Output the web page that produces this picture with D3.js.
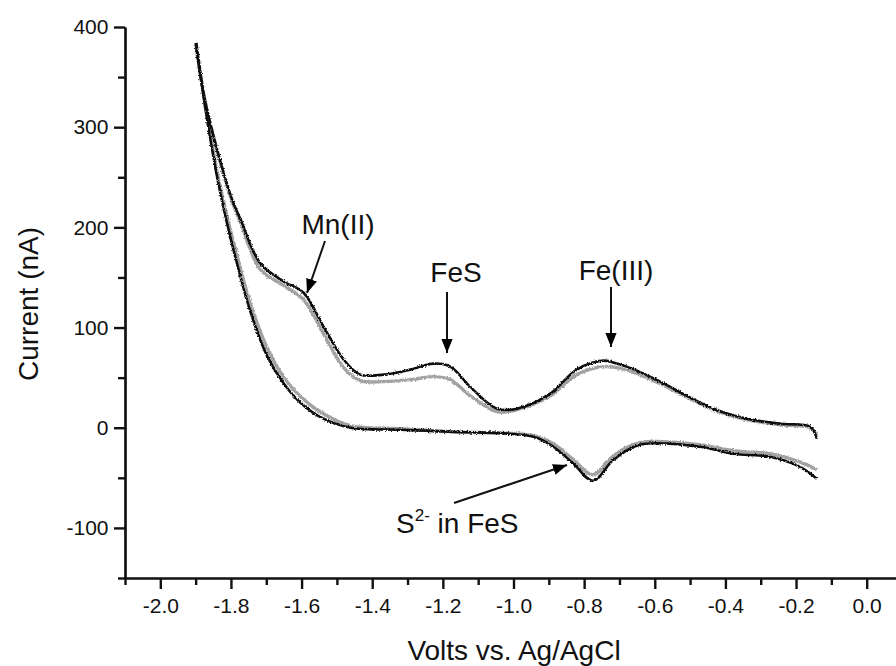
<!DOCTYPE html>
<html>
<head>
<meta charset="utf-8">
<script src="https://cdn.jsdelivr.net/npm/d3@7"></script>
<style>
  body { margin: 0; background: #fff; }
  svg { display: block; font-family: "Liberation Sans", Arial, sans-serif; }
</style>
</head>
<body>
<script>
// upper (anodic) branch, potential in V
const upperVolts = [-1.899, -1.872, -1.800, -1.773, -1.717, -1.651, -1.595, -1.538, -1.481, -1.434, -1.368, -1.292, -1.227, -1.179, -1.123, -1.047, -0.990, -0.896, -0.821, -0.745, -0.707, -0.651, -0.585, -0.434, -0.339, -0.245, -0.160, -0.141];
const upperScan1 = [384, 324, 231, 208, 164, 146, 135, 101, 68, 53, 53, 58, 64, 61, 41, 19, 19, 34, 58, 67, 64, 57, 46, 19, 9, 4, 1, -11];
const upperScan2 = [384, 324, 229, 205, 158, 142, 128, 94, 60, 47, 46, 48, 51, 48, 32, 16, 18, 32, 53, 61, 60, 54, 44, 18, 8, 3, 0, -8];

// lower (return) branch
const lowerVolts = [-1.899, -1.872, -1.840, -1.811, -1.780, -1.745, -1.698, -1.650, -1.600, -1.538, -1.462, -1.321, -1.179, -0.943, -0.887, -0.830, -0.775, -0.717, -0.642, -0.472, -0.378, -0.274, -0.189, -0.141];
const lowerScan1 = [384, 318, 252, 204, 160, 116, 72, 44, 24, 9, 0, -2, -4, -9, -19, -36, -53, -32, -17, -19, -26, -29, -39, -51];
const lowerScan2 = [384, 320, 257, 211, 168, 124, 80, 50, 30, 14, 2, -1, -4, -8, -16, -32, -47, -28, -15, -17, -23, -26, -34, -42];

const xTicks = [-2.0, -1.8, -1.6, -1.4, -1.2, -1.0, -0.8, -0.6, -0.4, -0.2, 0.0];
const xMinor = [-2.1, -1.9, -1.7, -1.5, -1.3, -1.1, -0.9, -0.7, -0.5, -0.3, -0.1, 0.1];
const yTicks = [-100, 0, 100, 200, 300, 400];
const yMinor = [-150, -50, 50, 150, 250, 350];

const width = 896, height = 666;

const x = d3.scaleLinear().domain([-2.1, 0.1]).range([125, 902]);
const y = d3.scaleLinear().domain([-150, 400]).range([578, 27]);

const svg = d3.select("body").append("svg")
    .attr("width", width)
    .attr("height", height);

const defs = svg.append("defs");

// roughen the traces a little so they look like digitised data
const rough = defs.append("filter").attr("id", "rough")
    .attr("x", "-5%").attr("y", "-5%").attr("width", "110%").attr("height", "110%");
rough.append("feTurbulence").attr("type", "fractalNoise")
    .attr("baseFrequency", 0.7).attr("numOctaves", 2).attr("seed", 3).attr("result", "n");
rough.append("feDisplacementMap").attr("in", "SourceGraphic").attr("in2", "n")
    .attr("scale", 3).attr("xChannelSelector", "R").attr("yChannelSelector", "G");

defs.append("marker")
    .attr("id", "head")
    .attr("viewBox", "0 0 10 10")
    .attr("refX", 10).attr("refY", 5)
    .attr("markerWidth", 7).attr("markerHeight", 7)
    .attr("markerUnits", "strokeWidth")
    .attr("orient", "auto")
  .append("path")
    .attr("d", "M0,1 L10,5 L0,9 Z")
    .attr("fill", "#000");

// axes: minor ticks and major ticks in their own groups
const fmt = d => d.toFixed(1);
const xAt = `translate(0,${y(-150)})`;
const yAt = `translate(${x(-2.1)},0)`;

svg.append("g").attr("transform", xAt)
    .call(d3.axisBottom(x).tickValues(xMinor).tickSize(7).tickFormat("").tickSizeOuter(0));
const gx = svg.append("g").attr("transform", xAt)
    .call(d3.axisBottom(x).tickValues(xTicks).tickSize(11).tickFormat(fmt).tickSizeOuter(0));

svg.append("g").attr("transform", yAt)
    .call(d3.axisLeft(y).tickValues(yMinor).tickSize(7).tickFormat("").tickSizeOuter(0));
const gy = svg.append("g").attr("transform", yAt)
    .call(d3.axisLeft(y).tickValues(yTicks).tickSize(11).tickFormat(d => d).tickSizeOuter(0));

svg.selectAll(".domain").attr("stroke", "#111").attr("stroke-width", 2.2);
svg.selectAll(".tick line").attr("stroke", "#111").attr("stroke-width", 2.4);
svg.selectAll(".tick text").attr("fill", "#111").style("font-size", "21px");
gx.selectAll(".tick text").attr("dy", "1.0em");
gy.selectAll(".tick text").attr("dx", "-0.12em");

svg.append("text")
    .attr("x", 514).attr("y", 660)
    .attr("text-anchor", "middle")
    .style("font-size", "28px")
    .attr("fill", "#111")
    .text("Volts vs. Ag/AgCl");

svg.append("text")
    .attr("transform", "translate(38,304) rotate(-90)")
    .attr("text-anchor", "middle")
    .style("font-size", "28px")
    .attr("fill", "#111")
    .text("Current (nA)");

// traces
const line = d3.line()
    .x(d => x(d[0]))
    .y(d => y(d[1]))
    .curve(d3.curveCatmullRom.alpha(0.5));

const traces = [
    { v: upperVolts, i: upperScan2, color: "#a2a2a2", w: 3.4 },
    { v: lowerVolts, i: lowerScan2, color: "#a2a2a2", w: 3.4 },
    { v: upperVolts, i: upperScan1, color: "#111", w: 2.6 },
    { v: lowerVolts, i: lowerScan1, color: "#111", w: 2.6 }
];

svg.append("g").attr("filter", "url(#rough)")
  .selectAll("path")
  .data(traces)
  .join("path")
    .attr("fill", "none")
    .attr("stroke", d => d.color)
    .attr("stroke-width", d => d.w)
    .attr("stroke-linejoin", "round")
    .attr("d", d => line(d.v.map((v, k) => [v, d.i[k]])));

// annotations
const notes = [
    { label: "Mn(II)", tx: 338, ty: 234, from: [325, 241], to: [307, 293] },
    { label: "FeS", tx: 456, ty: 282, from: [447, 292], to: [447, 353] },
    { label: "Fe(III)", tx: 616, ty: 280, from: [611, 287], to: [611, 347] }
];

notes.forEach(n => {
    svg.append("text")
        .attr("x", n.tx).attr("y", n.ty)
        .attr("text-anchor", "middle")
        .style("font-size", "28px")
        .attr("fill", "#111")
        .text(n.label);
    svg.append("line")
        .attr("x1", n.from[0]).attr("y1", n.from[1])
        .attr("x2", n.to[0]).attr("y2", n.to[1])
        .attr("stroke", "#111").attr("stroke-width", 2)
        .attr("marker-end", "url(#head)");
});

const s2 = svg.append("text")
    .attr("x", 396).attr("y", 533)
    .style("font-size", "28px")
    .attr("fill", "#111");
s2.append("tspan").text("S");
s2.append("tspan").attr("dy", -12).style("font-size", "17px").text("2-");
s2.append("tspan").attr("dy", 12).text(" in FeS");

svg.append("line")
    .attr("x1", 454).attr("y1", 503)
    .attr("x2", 567).attr("y2", 465)
    .attr("stroke", "#111").attr("stroke-width", 2)
    .attr("marker-end", "url(#head)");
</script>
</body>
</html>
